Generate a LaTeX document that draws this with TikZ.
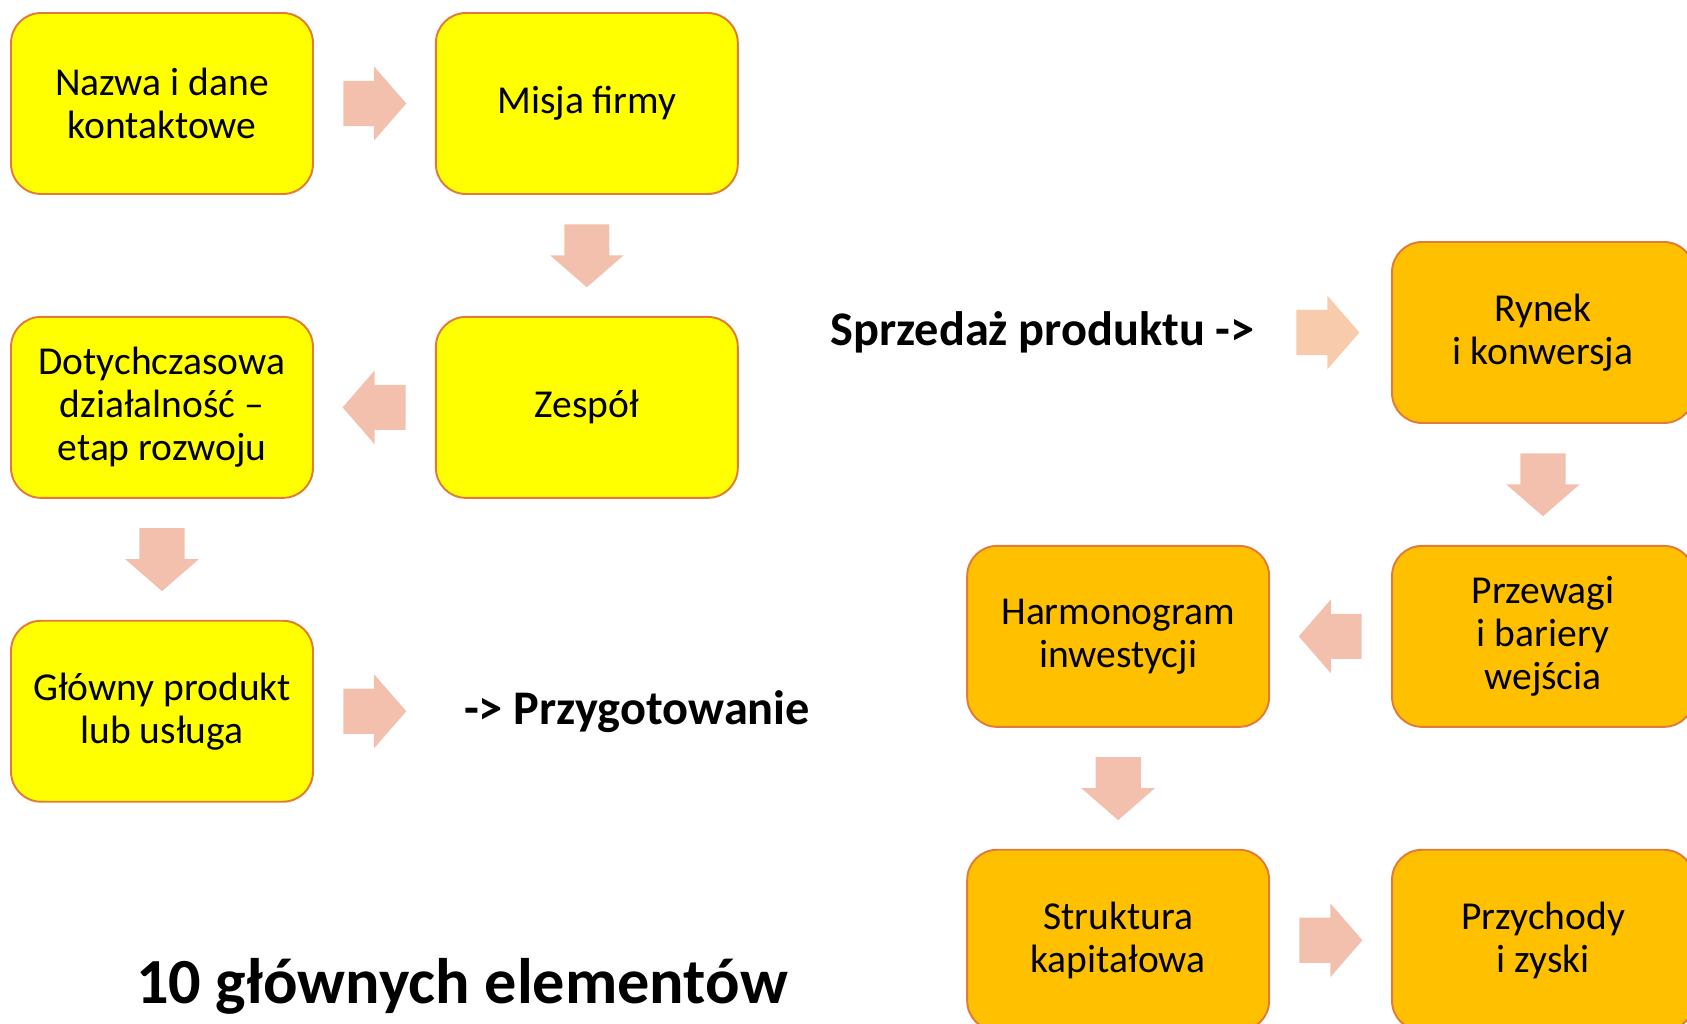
\documentclass[tikz,border=0pt]{standalone}
\usepackage{fontspec}
\setmainfont{Carlito}
\usetikzlibrary{positioning,shapes.arrows,calc}

\definecolor{boxline}{HTML}{E07B39}
\definecolor{yell}{HTML}{FFFF00}
\definecolor{gold}{HTML}{FFC000}
\definecolor{salmon}{HTML}{F4C0AE}
\definecolor{peach}{HTML}{F8CBAD}

\begin{document}
\begin{tikzpicture}[x=0.02cm,y=-0.02cm,
  elem/.style={draw=boxline,line width=1.1pt,rounded corners=0.6cm,
    minimum width=6.04cm,minimum height=3.62cm,align=center,
    font=\fontsize{22.5}{24.5}\selectfont},
  prep/.style={elem,fill=yell},
  sale/.style={elem,fill=gold},
  blk/.style={single arrow,fill=salmon,draw=none,inner xsep=0pt,inner ysep=0.445cm,
    minimum height=1.26cm,minimum width=1.46cm,anchor=tail,
    single arrow head extend=0.285cm,single arrow tip angle=98},
  note/.style={inner sep=0pt,font=\bfseries\fontsize{27.5}{33}\selectfont}]
\useasboundingbox (0,0) rectangle (1687,1024);
\clip (0,0) rectangle (1687,1024);

% przygotowanie
\node[prep] (nazwa) at (162,103.5) {Nazwa i dane\\kontaktowe};
\node[prep,right=2.42cm of nazwa] (misja) {Misja firmy};
\node[prep,below=2.42cm of misja] (zespol) {Zespół};
\node[prep,below=2.42cm of nazwa] (dotych) {Dotychczasowa\\działalność –\\etap rozwoju};
\node[prep,below=2.42cm of dotych] (produkt) {Główny produkt\\lub usługa};

\node[blk] (a1) at ($(nazwa.east)!0.5!(misja.west)+(-0.63cm,0)$) {};
\node[blk,rotate=-90] (a2) at ($(misja.south)!0.5!(zespol.north)+(0,0.63cm)$) {};
\node[blk,rotate=180] (a3) at ($(zespol.west)!0.5!(dotych.east)+(0.63cm,0)$) {};
\node[blk,rotate=-90] (a4) at ($(dotych.south)!0.5!(produkt.north)+(0,0.63cm)$) {};
\node[blk] (a5) at ($(produkt.east)+(0.58cm,0)$) {};
\node[note,right=1.14cm of a5.tip] (przyg) {-> Przygotowanie};

% sprzedaz
\node[sale] (rynek) at (1543,332.5) {Rynek\\i konwersja};
\node[sale,below=2.42cm of rynek] (przewagi) {Przewagi\\i bariery\\wejścia};
\node[sale,left=2.42cm of przewagi] (harmon) {Harmonogram\\inwestycji};
\node[sale,below=2.42cm of harmon] (struktura) {Struktura\\kapitałowa};
\node[sale,right=2.42cm of struktura] (przychody) {Przychody\\i zyski};

\node[blk,fill=peach] (b0) at ($(rynek.west)+(-1.9cm,0)$) {};
\node[note,left=0.82cm of b0.tail] (sprzed) {Sprzedaż produktu ->};
\node[blk,rotate=-90] (b1) at ($(rynek.south)!0.5!(przewagi.north)+(0,0.63cm)$) {};
\node[blk,rotate=180] (b2) at ($(przewagi.west)!0.5!(harmon.east)+(0.63cm,0)$) {};
\node[blk,rotate=-90] (b3) at ($(harmon.south)!0.5!(struktura.north)+(0,0.63cm)$) {};
\node[blk] (b4) at ($(struktura.east)!0.5!(przychody.west)+(-0.63cm,0)$) {};

\node[font=\bfseries\fontsize{36.6}{44}\selectfont] (tytul) at (462,986) {10 głównych elementów};
\end{tikzpicture}
\end{document}
